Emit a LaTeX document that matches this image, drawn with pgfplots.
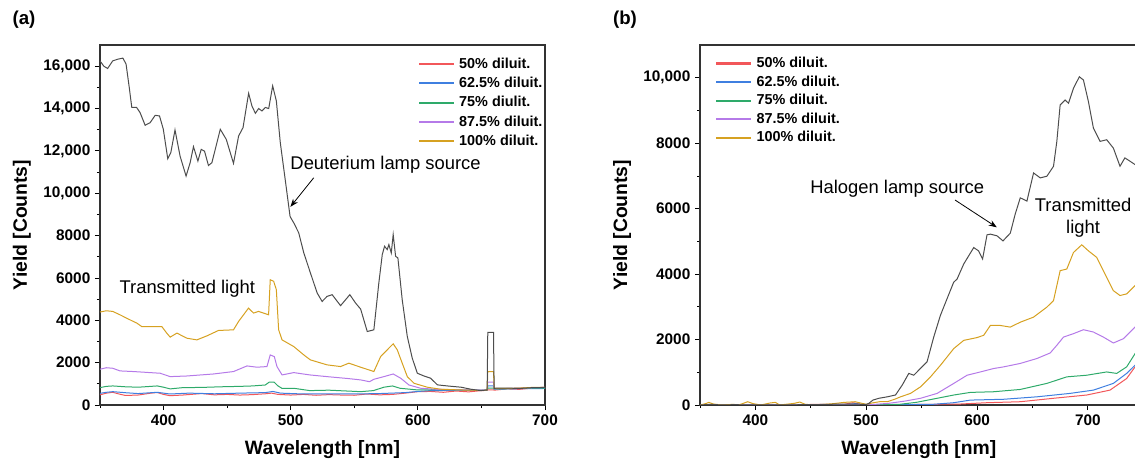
\documentclass[border=0pt]{standalone}
\usepackage{fontspec}
\setmainfont{Liberation Sans}
\usepackage{pgfplots}
\pgfplotsset{compat=1.18}
\usetikzlibrary{arrows.meta}

\definecolor{srcgray}{HTML}{4D4D4D}
\definecolor{redA}{HTML}{F2575A}
\definecolor{blueA}{HTML}{3F7FE0}
\definecolor{greenA}{HTML}{2EAA6A}
\definecolor{purpleA}{HTML}{B57AE8}
\definecolor{goldA}{HTML}{D6A121}
\newcommand{\labfont}{\fontsize{14.5}{16}\selectfont\bfseries}

\pgfplotsset{
 specstyle/.style={
  scale only axis, height=270pt,
  xmin=350, ymin=0, scaled y ticks=false, scaled x ticks=false,
  xtick={400,500,600,700}, minor xtick={350,450,550,650},
  tick align=outside, tick pos=left,
  major tick length=3.75pt, minor tick length=2.25pt,
  every tick/.style={black, line width=0.6pt},
  axis line style={line width=0.8pt, black!80},
  /pgf/number format/assume math mode=true,
  ticklabel style={font=\fontsize{11.5}{13}\selectfont\bfseries},
  xlabel={Wavelength [nm]}, ylabel={Yield [Counts]},
  every axis x label/.style={at={(axis description cs:0.5,-0.125)},anchor=center,font=\labfont},
  legend style={draw=none, fill=none, inner sep=0pt, column sep=2pt,
   font=\fontsize{10.8}{12}\selectfont\bfseries, cells={anchor=west}},
  legend image code/.code={\fill[#1] (0pt,-0.45pt) rectangle (25.5pt,0.45pt);},
  every axis plot/.append style={line width=0.75pt},
 }
}

\begin{document}
\begin{tikzpicture}
% ---------------- (a) deuterium lamp ----------------
\begin{axis}[specstyle, at={(0pt,0pt)}, anchor=south west,
 width=333.75pt, xmax=700, ymax=17000,
 ytick={0,2000,...,16000}, minor ytick={1000,3000,...,15000},
 yticklabels={0,2000,4000,6000,8000,{10,000},{12,000},{14,000},{16,000}},
 every axis y label/.style={at={(axis description cs:-0.1753,0.5)},rotate=90,anchor=center,font=\labfont},
 legend style={at={(0.716,1)}, anchor=north west, yshift=-7.5pt, row sep=1.1pt}]
\addplot[redA] coordinates {
 (350,480)(355,560)(360,600)(365,520)(370,450)(380,470)(390,560)(395,590)(400,500)
 (405,440)(415,470)(430,540)(440,480)(450,500)(460,470)(470,490)(480,530)(485,560)
 (490,500)(500,470)(510,500)(520,460)(530,490)(540,470)(550,460)(560,520)(570,480)
 (580,500)(590,560)(600,630)(610,640)(620,600)(630,660)(640,620)(650,680)(654.5,690)
 (655,720)(659.5,720)(660,700)(670,760)(680,740)(690,800)(700,780)};
\addplot[blueA] coordinates {
 (350,550)(355,600)(360,630)(370,580)(380,540)(395,600)(405,520)(420,560)(440,530)
 (460,560)(480,585)(486,640)(492,560)(510,520)(530,530)(550,520)(570,540)(590,585)
 (600,640)(610,680)(630,690)(650,700)(654.5,700)(655,900)(659.5,900)(660,745)
 (680,770)(700,780)};
\addplot[greenA] coordinates {
 (350,820)(355,880)(360,900)(370,860)(380,840)(390,880)(395,900)(400,840)(405.2,760)
 (415,820)(430,830)(445,860)(460,880)(470,900)(480,945)(483,1075)(487,1075)(490,900)
 (493,790)(502.4,790)(515,680)(530,700)(555,630)(565,680)(573.3,840)(580,900)(586,790)
 (600,710)(620,730)(640,700)(650,690)(654.5,700)(655,800)(659.5,800)(660,745)
 (680,790)(700,800)};
\addplot[purpleA] coordinates {
 (350,1690)(355,1760)(360,1735)(365.7,1610)(376.2,1580)(397.3,1500)(405.2,1340)
 (418.3,1370)(439.3,1465)(455,1580)(465.6,1845)(473.4,1785)(481.3,1815)(483.9,2365)
 (487.1,2285)(489.2,1815)(493.2,1420)(502.4,1530)(515,1420)(528.6,1340)(545,1250)
 (555,1185)(562,1100)(565.4,1215)(573.3,1340)(580.6,1465)(586.5,1265)(593,945)
 (602.2,790)(615,740)(630,720)(650,700)(654.5,700)(655,1075)(659.5,1075)(660,760)
 (680,800)(700,830)};
\addplot[goldA] coordinates {
 (350,4390)(355,4450)(360,4420)(365.7,4260)(371,4100)(376.2,3945)(378.9,3870)
 (382.8,3705)(386.7,3705)(398.6,3705)(402.5,3395)(405.2,3205)(410.5,3395)(418.3,3155)
 (426.2,3075)(434.1,3265)(443.2,3520)(455,3550)(459,3945)(462.9,4260)(466.8,4575)
 (470.8,4340)(474.7,4420)(478.6,4340)(482.6,4260)(483.9,5915)(486.6,5840)(488.7,5445)
 (490.5,3550)(493.2,3075)(502.4,2760)(510.3,2365)(515.5,2130)(528.6,1895)(539.2,1815)
 (545.7,1975)(555,1785)(565.4,1580)(570.7,2285)(575.9,2605)(580.6,2890)(583.8,2605)
 (587.7,1975)(591.7,1340)(597,1025)(607.5,840)(618,745)(634,710)(649.5,690)
 (654.5,700)(655,1580)(659.5,1580)(660,790)(670,780)(680,800)(690,830)(700,830)};
\addplot[srcgray, forget plot] coordinates {
 (350,16250)(353,16000)(356,15890)(360,16250)(364,16330)(368,16380)(370.5,16100)
 (373,15000)(375,14050)(378.8,14050)(381.5,13810)(385.5,13210)(389.4,13330)
 (393.4,13680)(396.8,13650)(399.8,13020)(403.3,11630)(405.7,11915)(409,12990)
 (413,11750)(417.7,10810)(420.9,11440)(423.5,12200)(427,11520)(429.6,12070)
 (432.2,11990)(435.3,11310)(438,11440)(444.6,13020)(449.3,12545)(455,11410)
 (459,12700)(462.5,13100)(466.9,14720)(469.5,14120)(472.2,13775)(474.8,14000)
 (477.4,13885)(480,14050)(482.7,14000)(485.8,15070)(488.7,14360)(491.8,12390)
 (496,10495)(499.5,8900)(502.4,8600)(506.3,8130)(510.3,7180)(515.5,6235)(520.8,5290)
 (524.7,4890)(528.6,5130)(532.6,5210)(539.2,4690)(546.5,5210)(551,4815)(555,4530)
 (560.2,3470)(565.4,3550)(569.3,5760)(572,7100)(573.8,7495)(575.9,7340)(577.2,7575)
 (579.1,7180)(580.6,8050)(582.5,7020)(584.3,6945)(587.7,4970)(591.7,3235)(595.6,2210)
 (599.6,1500)(604.8,1370)(610,1265)(615.4,950)(623.2,900)(634,840)(641.7,745)
 (649.5,680)(654.5,710)(655,3425)(659.5,3425)(660,790)(670,800)(680,780)(690,820)(700,830)};
\legend{50\% diluit.,62.5\% diluit.,75\% diulit.,87.5\% diluit.,100\% diluit.}
\node[anchor=west, inner sep=0pt, font=\fontsize{13.8}{16}\selectfont] at (axis cs:499.6,11360) {Deuterium lamp source};
\draw[-{Stealth[length=6pt,width=4.5pt]}, line width=0.6pt] (axis cs:518.1,10730) -- (axis cs:499.8,9360);
\node[anchor=west, inner sep=0pt, font=\fontsize{13.8}{16}\selectfont] at (axis cs:365.2,5475) {Transmitted light};
\end{axis}

% ---------------- (b) halogen lamp ----------------
\begin{axis}[specstyle, at={(450pt,0pt)}, anchor=south west,
 width=328.3pt, xmax=745, ymax=11000,
 ytick={0,2000,...,10000}, minor ytick={1000,3000,...,9000},
 yticklabels={0,2000,4000,6000,8000,{10,000}},
 every axis y label/.style={at={(axis description cs:-0.178,0.5)},rotate=90,anchor=center,font=\labfont},
 legend style={at={(0.0366,1)}, anchor=north west, yshift=-7pt, row sep=0.6pt}]
\addplot[redA] coordinates {
 (350,0)(480,20)(488,70)(495,20)(500,0)(585,30)(609,70)(639,100)(669,205)(699,305)
 (720,455)(735,810)(742.6,1165)(746,1250)};
\addplot[blueA] coordinates {
 (350,0)(480,10)(490,40)(500,0)(560,20)(579,70)(594,150)(624,175)(654,250)(684,355)
 (705,455)(723,660)(735,965)(742.6,1215)(746,1300)};
\addplot[greenA] coordinates {
 (350,0)(500,0)(530,20)(545,80)(564,205)(579,305)(594,385)(615,405)(639,475)(663,660)
 (681,860)(699,910)(717,1010)(726,965)(735,1165)(742.6,1570)(746,1700)};
\addplot[purpleA] coordinates {
 (350,0)(500,0)(520,50)(535,120)(549,205)(564,355)(579,660)(591,910)(603,1010)
 (615,1115)(624,1165)(639,1270)(654,1420)(666,1590)(672,1825)(678,2075)(687,2180)
 (696,2300)(705,2230)(714,2075)(723,1895)(732,2025)(742.6,2380)(746,2500)};
\addplot[goldA] coordinates {
 (350,0)(355,40)(358,80)(362,30)(370,0)(380,20)(385,0)(393,100)(398,40)(405,0)
 (413,60)(418,80)(422,0)(435,50)(440,90)(445,20)(455,0)(470,40)(480,80)(490,100)
 (495,60)(500,20)(505,60)(512,100)(519,100)(526,180)(531,250)(540,355)(549,555)
 (558,860)(567,1215)(573,1470)(579,1725)(588,1975)(600,2060)(606,2130)(612,2430)
 (621,2430)(630,2380)(639,2530)(651,2685)(663,2990)(669,3190)(675,4105)(681,4155)
 (687,4660)(694.5,4895)(700.5,4710)(708,4510)(717,3900)(723,3495)(729,3345)
 (735,3395)(742.6,3650)(746,3800)};
\addplot[srcgray, forget plot] coordinates {
 (350,0)(360,20)(370,0)(380,10)(400,0)(450,10)(480,30)(500,20)(502.4,50)(506,150)
 (511.4,205)(519,250)(526.4,305)(532.5,610)(538.4,965)(542.9,910)(548.9,1115)
 (554.9,1320)(560.9,2075)(566.9,2735)(572.9,3245)(578.9,3750)(582,3850)(588,4310)
 (597,4810)(601.4,4710)(605,4460)(609,5200)(612,5220)(618,5170)(623.4,5015)
 (630,5250)(634.4,5830)(639,6330)(645,6230)(651,7090)(657,6940)(663,6990)(669,7295)
 (672,8055)(675,9170)(679.5,9320)(682.5,9220)(687,9675)(692.3,10030)(696,9930)
 (700.5,9270)(705,8460)(711,8055)(717,8105)(723,7850)(729,7295)(733.4,7550)
 (738,7450)(742.4,7350)(746,7300)};
\legend{50\% diluit.,62.5\% diluit.,75\% diluit.,87.5\% diluit.,100\% diluit.}
\node[anchor=west, inner sep=0pt, font=\fontsize{13.8}{16}\selectfont] at (axis cs:449.3,6617) {Halogen lamp source};
\draw[-{Stealth[length=6pt,width=4.5pt]}, line width=0.6pt] (axis cs:580.1,6264) -- (axis cs:617.8,5430);
\node[align=center, inner sep=0pt, font=\fontsize{13.8}{17}\selectfont] at (axis cs:695.7,5725) {Transmitted\\light};
\end{axis}

\node[font=\fontsize{14}{16}\selectfont\bfseries] at (-57pt,288.75pt) {(a)};
\node[font=\fontsize{14}{16}\selectfont\bfseries] at (393.75pt,288.75pt) {(b)};

\pgfresetboundingbox
\path[use as bounding box] (-75pt,-44.25pt) rectangle (776.25pt,303.75pt);
\end{tikzpicture}
\end{document}
